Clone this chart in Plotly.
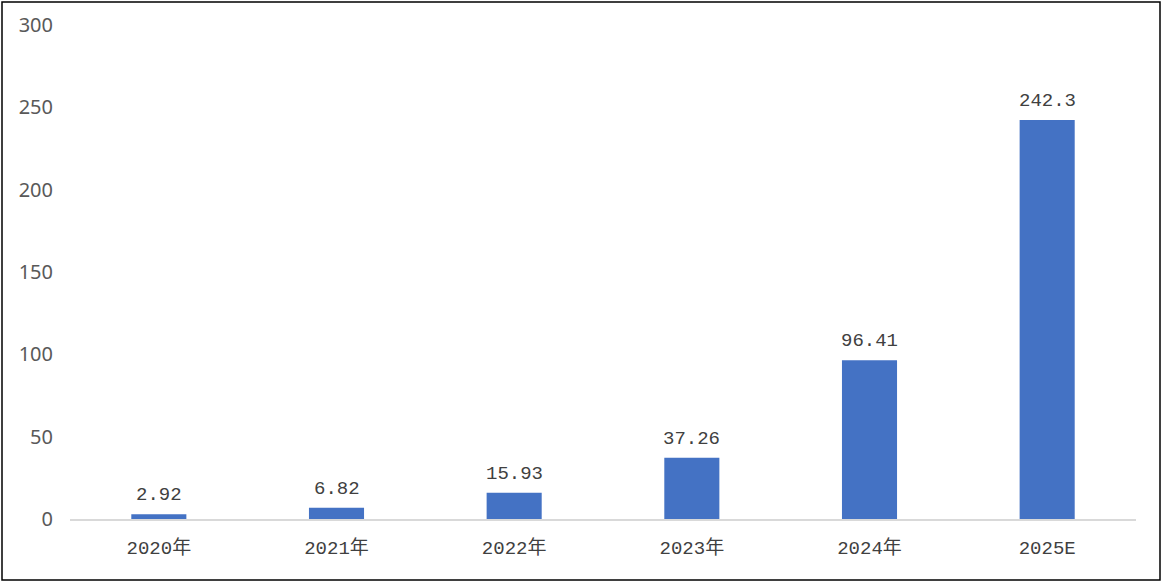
import plotly.graph_objects as go

categories = ["2020年", "2021年", "2022年", "2023年", "2024年", "2025E"]
values = [2.92, 6.82, 15.93, 37.26, 96.41, 242.3]
labels = ["2.92", "6.82", "15.93", "37.26", "96.41", "242.3"]
y_ticks = [0, 50, 100, 150, 200, 250, 300]

mono = "Liberation Mono, Noto Sans CJK SC, monospace"

fig = go.Figure(
    go.Bar(
        x=categories,
        y=values,
        marker=dict(color="#4472C4", line=dict(width=0)),
        width=0.31,
        cliponaxis=False,
    )
)

for c, v, t in zip(categories, values, labels):
    fig.add_annotation(
        x=c, y=v, text=t, showarrow=False,
        xanchor="center", yanchor="bottom", yshift=6,
        font=dict(family=mono, size=19, color="#404040"),
    )

fig.update_layout(
    width=1163,
    height=584,
    margin=dict(l=70, r=27, t=25, b=65),
    paper_bgcolor="white",
    plot_bgcolor="white",
    showlegend=False,
    xaxis=dict(
        showgrid=False,
        showline=True,
        linecolor="#D9D9D9",
        linewidth=1.5,
        ticks="",
        tickfont=dict(family=mono, size=19, color="#404040"),
        ticklabelstandoff=10,
    ),
    yaxis=dict(
        range=[0, 300],
        tickvals=y_ticks,
        showgrid=False,
        zeroline=False,
        showline=False,
        ticks="",
        tickfont=dict(family="Noto Sans, Roboto, sans-serif", size=20, color="#595959"),
        ticklabelstandoff=16,
    ),
    shapes=[
        dict(
            type="rect",
            xref="paper",
            yref="paper",
            x0=(2 - 70) / 1066,
            x1=(1160 - 70) / 1066,
            y0=(519 - 580) / 494,
            y1=(519 - 2) / 494,
            line=dict(color="#000000", width=1.5),
            fillcolor="rgba(0,0,0,0)",
            layer="above",
        )
    ],
)

fig.write_html(
    "out.html",
    config={"displayModeBar": False},
    post_script="document.body.style.margin='0';",
)
